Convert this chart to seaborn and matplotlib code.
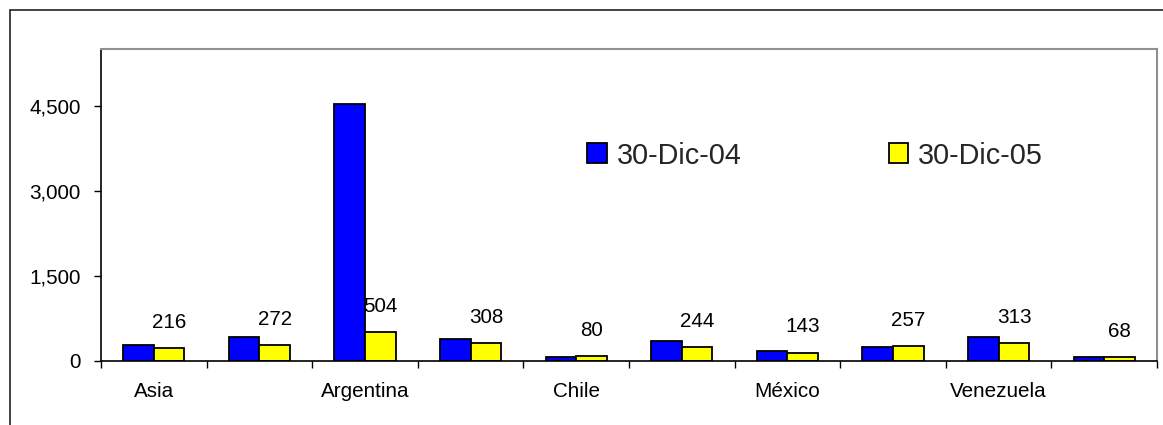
import numpy as np
import pandas as pd
import matplotlib
matplotlib.use("Agg")
import matplotlib.pyplot as plt
from matplotlib.patches import Rectangle
from matplotlib.ticker import FuncFormatter, FixedLocator
import seaborn as sns

# Data: spreads by region / country at two dates
tick_labels = ["Asia", "", "Argentina", "", "Chile", "", "México", "", "Venezuela", ""]
serie_04 = [270, 412, 4530, 376, 72, 341, 176, 245, 412, 70]
serie_05 = [216, 272, 504, 308, 80, 244, 143, 257, 313, 68]
series_names = ["30-Dic-04", "30-Dic-05"]
colors = ["#0000FF", "#FFFF00"]
y_ticks = [0, 1500, 3000, 4500]

n = len(tick_labels)
df = pd.DataFrame({
    "pos": list(range(n)) * 2,
    "valor": serie_04 + serie_05,
    "serie": [series_names[0]] * n + [series_names[1]] * n,
})

sns.set_theme(style="white")
plt.rcParams["font.family"] = ["Liberation Sans", "DejaVu Sans"]

W, H = 1163, 425
fig = plt.figure(figsize=(W / 100, H / 100), dpi=100)
fig.patch.set_facecolor("white")

# outer chart frame (open at right and bottom)
fig.add_artist(Rectangle((9.5 / W, -0.1), 1.2, 1.1 - 10.5 / H,
                         transform=fig.transFigure, fill=False,
                         edgecolor="#222222", linewidth=1.2))

left, right = 101 / W, 1157 / W
bottom, top = 1 - 360.7 / H, 1 - 49 / H
ax = fig.add_axes([left, bottom, right - left, top - bottom])

sns.barplot(data=df, x="pos", y="valor", hue="serie", order=list(range(n)),
            hue_order=series_names, palette=colors, width=0.58, gap=0,
            edgecolor="black", linewidth=1.3, saturation=1, ax=ax)

ax.set_xlim(-0.5, n - 0.5)
ax.set_ylim(0, 5500)
ax.set_xlabel("")
ax.set_ylabel("")

FS = 14.9

# value labels above the 2005 bars
for patch in ax.containers[1]:
    h = patch.get_height()
    ax.annotate(f"{h:,.0f}", (patch.get_x() + patch.get_width() / 2, h),
                xytext=(0, 18.5), textcoords="offset points",
                ha="center", va="center", fontsize=FS, color="black")

# category labels centred, tick marks on category boundaries
ax.xaxis.set_major_locator(FixedLocator(np.arange(-0.5, n, 1.0)))
ax.xaxis.set_minor_locator(FixedLocator(np.arange(n)))
ax.set_xticklabels([""] * (n + 1))
ax.set_xticklabels(tick_labels, minor=True)
ax.tick_params(axis="x", which="major", length=5, width=1, color="black",
               direction="out", bottom=True)
ax.tick_params(axis="x", which="minor", length=0, pad=15, labelsize=FS,
               labelcolor="black")

ax.set_yticks(y_ticks)
ax.yaxis.set_major_formatter(FuncFormatter(lambda v, p: f"{v:,.0f}"))
ax.tick_params(axis="y", length=5, width=1, color="black", direction="out",
               left=True, pad=9.5, labelsize=FS, labelcolor="black")

for side in ["left", "bottom"]:
    ax.spines[side].set_color("black")
    ax.spines[side].set_linewidth(1.2)
for side in ["top", "right"]:
    ax.spines[side].set_color("#909090")
    ax.spines[side].set_linewidth(1.5)

leg = ax.legend(loc="center", bbox_to_anchor=((815 - 101) / (1157 - 101), 1 - (155.5 - 49) / (360.7 - 49)),
                ncol=2, frameon=False, fontsize=20.8, handlelength=0.68,
                handleheight=0.68, handletextpad=0.33, columnspacing=5.1,
                borderpad=0, borderaxespad=0)
for h in leg.legend_handles:
    h.set_edgecolor("black")
    h.set_linewidth(1.3)

fig.savefig("out.png", dpi=100, facecolor="white")
